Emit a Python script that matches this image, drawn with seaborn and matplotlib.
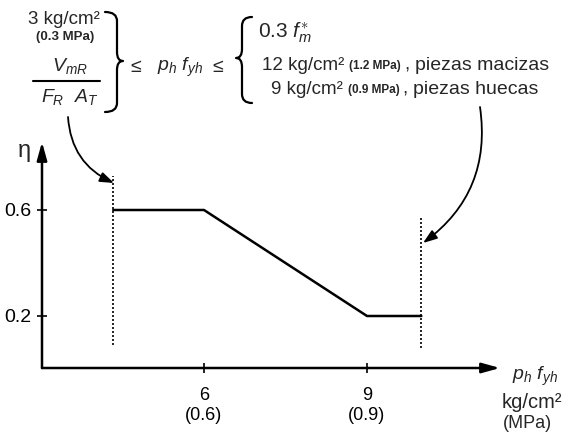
import numpy as np
import pandas as pd
import matplotlib
matplotlib.use("Agg")
import matplotlib.pyplot as plt
from matplotlib.path import Path
from matplotlib.patches import PathPatch
import seaborn as sns

# Efficiency factor eta versus p_h f_yh (kg/cm2)
phfyh = [4.33, 6.0, 9.0, 10.0]
eta = [0.6, 0.6, 0.2, 0.2]
lower_limit = 4.33
upper_limit = 10.0
xticks = [6, 9]
xtick_labels = ["6\n(0.6)", "9\n(0.9)"]
yticks = [0.2, 0.6]
ytick_labels = ["0.2", "0.6"]

sns.set_theme(style="white")
plt.rcParams["font.family"] = ["Liberation Sans", "DejaVu Sans"]
plt.rcParams["mathtext.fontset"] = "custom"
plt.rcParams["mathtext.rm"] = "Liberation Sans"
plt.rcParams["mathtext.it"] = "Liberation Sans:italic"
plt.rcParams["mathtext.bf"] = "Liberation Sans:bold"

W, H = 574, 433
fig = plt.figure(figsize=(W / 100, H / 100), dpi=100)

# overlay in pixel coordinates for the formula and the pointers
ov = fig.add_axes([0, 0, 1, 1])
ov.set_xlim(0, W)
ov.set_ylim(H, 0)
ov.axis("off")

# main chart area
x0, x1, ytop, ybot = 42, 500, 142, 368
ax = fig.add_axes([x0 / W, (H - ybot) / H, (x1 - x0) / W, (ybot - ytop) / H])
ax.patch.set_alpha(0)
px_per_x = (367 - 204) / 3.0
ax.set_xlim(6 - (204 - x0) / px_per_x, 9 + (x1 - 367) / px_per_x)
px_per_y = (316 - 210) / 0.4
ax.set_ylim(0.2 - (ybot - 316) / px_per_y, 0.6 + (210 - ytop) / px_per_y)

df = pd.DataFrame({"phfyh": phfyh, "eta": eta})
sns.lineplot(data=df, x="phfyh", y="eta", ax=ax, color="black", lw=1.8,
             sort=False, legend=False)
ax.vlines([lower_limit], 0.09, 0.73, colors="black", linestyles=(0, (1.2, 1.2)), lw=1.2)
ax.vlines([upper_limit], 0.08, 0.57, colors="black", linestyles=(0, (1.2, 1.2)), lw=1.2)

for s in ax.spines.values():
    s.set_visible(False)
arrow_kw = dict(arrowstyle="-|>,head_length=0.9,head_width=0.25", lw=1.8,
                color="black", shrinkA=0, shrinkB=0)
ax.annotate("", xy=(1, 0), xytext=(0, 0), xycoords="axes fraction",
            textcoords="axes fraction", arrowprops=arrow_kw)
ax.annotate("", xy=(0, 1), xytext=(0, 0), xycoords="axes fraction",
            textcoords="axes fraction", arrowprops=arrow_kw)

ax.set_xticks(xticks)
ax.set_xticklabels(xtick_labels, fontsize=13, linespacing=1.25)
ax.set_yticks(yticks)
ax.set_yticklabels(ytick_labels, fontsize=14)
ax.tick_params(axis="both", direction="inout", length=7, width=1.2,
               color="black", labelcolor="black")
ax.tick_params(axis="x", bottom=True, pad=10)
ax.tick_params(axis="y", left=True, pad=4)
ax.set_xlabel("")
ax.set_ylabel("")
ax.grid(False)

# axis titles
ov.text(24, 151, "η", fontsize=17, ha="center", va="center")
ov.text(512, 376, r"$p_h\ f_{yh}$", fontsize=14, ha="left", va="center")
ov.text(502, 402, "kg/cm²", fontsize=14.5, ha="left", va="center")
ov.text(503, 423, "(MPa)", fontsize=13, ha="left", va="center")


def brace(ax, xb, xv, xt, ytop, ymid, ybot, lw=1.6):
    """Curly brace with end points at xb, shaft at xv and tip at xt."""
    d = 9
    verts = [(xb, ytop), (xv, ytop), (xv, ytop + d),
             (xv, ymid - d), (xv, ymid), (xt, ymid),
             (xv, ymid), (xv, ymid + d),
             (xv, ybot - d), (xv, ybot), (xb, ybot)]
    codes = [Path.MOVETO, Path.CURVE3, Path.CURVE3,
             Path.LINETO, Path.CURVE3, Path.CURVE3,
             Path.CURVE3, Path.CURVE3,
             Path.LINETO, Path.CURVE3, Path.CURVE3]
    ax.add_patch(PathPatch(Path(verts, codes), fill=False, lw=lw, color="black",
                           capstyle="round", joinstyle="round"))


# lower bound of the reinforcement
ov.text(64, 19, "3 kg/cm²", fontsize=13.5, ha="center", va="center")
ov.text(65, 37, "(0.3 MPa)", fontsize=9.5, ha="center", va="center", fontweight="bold")
ov.text(70, 66, r"$V_{mR}$", fontsize=14, ha="center", va="center")
ov.plot([33, 100], [81, 81], color="black", lw=1.5)
ov.text(70, 97, r"$F_R\ \ A_T$", fontsize=14, ha="center", va="center")
brace(ov, 105, 117, 123, 12, 61, 112)

ov.text(127, 68, r"$\leq$", fontsize=14, ha="left", va="center")
ov.text(157, 67, r"$p_h\ f_{yh}$", fontsize=14, ha="left", va="center")
ov.text(209, 68, r"$\leq$", fontsize=14, ha="left", va="center")

# upper bound of the reinforcement
brace(ov, 252, 242, 236, 17, 58, 103)
ov.text(258, 33, r"0.3 $f_m^{\ast}$", fontsize=15, ha="left", va="center")
ov.text(262, 65, "12 kg/cm²", fontsize=13.5, ha="left", va="center")
ov.text(349, 66, "(1.2 MPa)", fontsize=8.5, ha="left", va="center", fontweight="bold")
ov.text(404, 65, ",", fontsize=13.5, ha="left", va="center")
ov.text(415, 65, "piezas macizas", fontsize=14, ha="left", va="center")
ov.text(271, 89, "9 kg/cm²", fontsize=13.5, ha="left", va="center")
ov.text(348, 90, "(0.9 MPa)", fontsize=8.5, ha="left", va="center", fontweight="bold")
ov.text(402, 89, ",", fontsize=13.5, ha="left", va="center")
ov.text(413, 89, "piezas huecas", fontsize=14, ha="left", va="center")

# pointers from the bounds to the limit lines
ptr_kw = dict(arrowstyle="-|>,head_length=0.7,head_width=0.25", lw=1.3, color="black",
              shrinkA=0, shrinkB=0)
ov.annotate("", xy=(114, 183), xytext=(68, 117),
            arrowprops=dict(connectionstyle="arc3,rad=0.3", **ptr_kw))
ov.annotate("", xy=(423, 243), xytext=(480, 107),
            arrowprops=dict(connectionstyle="arc3,rad=-0.3", **ptr_kw))

fig.savefig("out.png", dpi=100)
